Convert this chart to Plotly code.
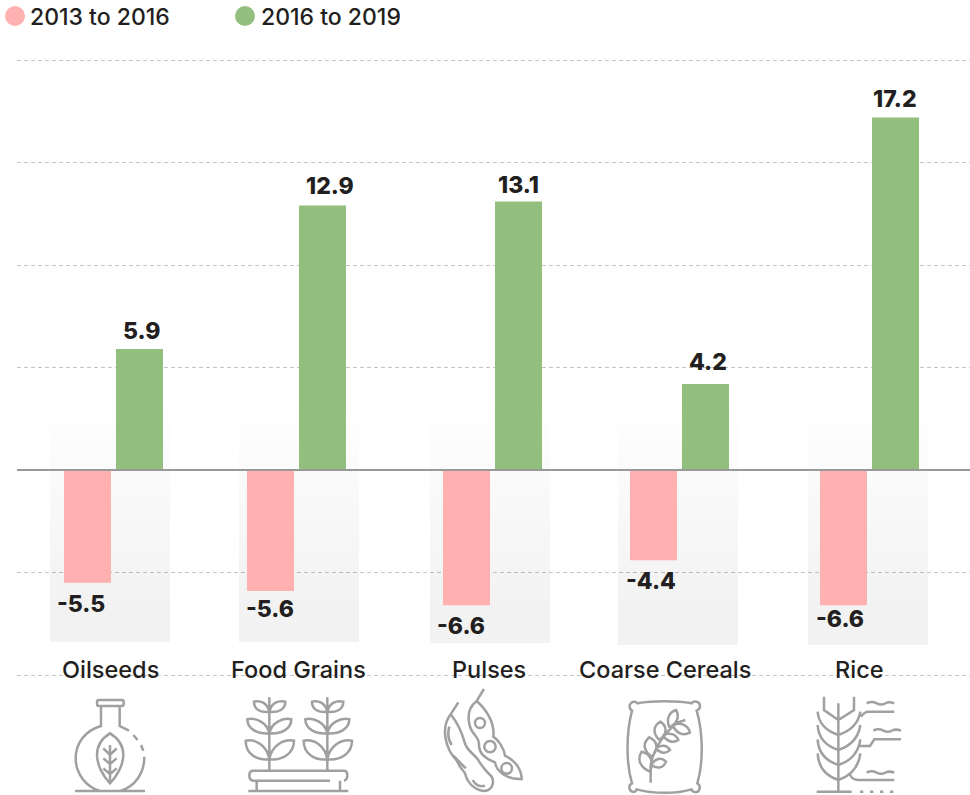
import re
import plotly.graph_objects as go

# ---------- data ----------
categories = ["Oilseeds", "Food Grains", "Pulses", "Coarse Cereals", "Rice"]
series_names = ["2013 to 2016", "2016 to 2019"]
# bar lengths as drawn in the picture (the Food Grains bar is drawn longer than its printed label)
values_2013_2016 = [-5.5, -5.9, -6.6, -4.4, -6.6]
values_2016_2019 = [5.9, 12.9, 13.1, 4.2, 17.2]
labels_2013_2016 = ["-5.5", "-5.6", "-6.6", "-4.4", "-6.6"]
labels_2016_2019 = ["5.9", "12.9", "13.1", "4.2", "17.2"]
grid_values = [-10, -5, 0, 5, 10, 15, 20]

# ---------- layout constants (pixels) ----------
W, H = 970, 795
LEFT = 17
ZERO_PX = 470
PX_PER_UNIT = 20.5
group_x = [113.5, 296.5, 492.5, 679.5, 869.5]
label_x = [110.5, 298.5, 489, 665, 859]
panel_left = [50, 239, 430, 618, 808]
panel_bottom = [642, 642, 643, 645, 645]
PANEL_W, PANEL_TOP = 120, 400
BAR_W = 47
PINK, GREEN = "#ffb1b1", "#92bf7d"
INK = "#231f20"
ICON = "#a0a0a0"
FONT = "Inter"
neg_shift = [(-6.5, -21), (-0.5, -18), (-5.5, -21), (-2.5, -21), (-3.5, -14)]
pos_shift = [(1.5, 18), (7.5, 20), (-0.5, 16), (2.5, 22), (-0.5, 18)]


def pxv(x):
    return (x - LEFT) / (W - LEFT)


def pyv(y):
    return 1 - y / H


def data_y(y):
    return (ZERO_PX - y) / PX_PER_UNIT


def to_paper(path, ox, oy):
    """Path in 3x-crop coordinates -> paper coordinates."""
    res, is_x = [], True
    for tok in re.findall(r"[MLCQZ]|-?\d+\.?\d*", path):
        if tok in "MLCQZ":
            res.append(tok)
            is_x = True
        else:
            v = float(tok) / 3
            res.append(f"{pxv(ox + v):.5f}" if is_x else f"{pyv(oy + v):.5f}")
            is_x = not is_x
    s = ""
    for tok in res:
        s += (tok if tok in "MLCQZ" else tok + " ")
    return s


def circ(cx, cy, r):
    k = 0.5523 * r
    return (f"M{cx-r} {cy} C{cx-r} {cy-k} {cx-k} {cy-r} {cx} {cy-r} "
            f"C{cx+k} {cy-r} {cx+r} {cy-k} {cx+r} {cy} "
            f"C{cx+r} {cy+k} {cx+k} {cy+r} {cx} {cy+r} "
            f"C{cx-k} {cy+r} {cx-r} {cy+k} {cx-r} {cy} Z ")


def leaf(b, t, w):
    bx, by = b
    tx, ty = t
    dx, dy = tx - bx, ty - by
    nx, ny = -dy, dx
    a1 = (bx + 0.35 * dx + w * nx, by + 0.35 * dy + w * ny)
    a2 = (bx + 0.75 * dx + w * nx, by + 0.75 * dy + w * ny)
    c1 = (bx + 0.35 * dx - w * nx, by + 0.35 * dy - w * ny)
    c2 = (bx + 0.75 * dx - w * nx, by + 0.75 * dy - w * ny)
    return (f"M{bx} {by} C{a1[0]} {a1[1]} {a2[0]} {a2[1]} {tx} {ty} "
            f"C{c2[0]} {c2[1]} {c1[0]} {c1[1]} {bx} {by} ")


flask = (
    "M102 30 L170 30 Q176 30 176 36 L176 42 Q176 48 170 48 L102 48 Q96 48 96 42 L96 36 Q96 30 102 30 Z "
    "M108 48 L108 108 C60 122 32 160 32 205 C32 250 62 290 105 303 "
    "M164 48 L164 108 L192 122 M205 135 L218 150 M228 165 L235 182 "
    "M238 200 C238 250 210 290 165 303 "
    "M135 130 C110 145 96 165 96 195 C96 225 115 260 135 280 C155 260 175 225 175 195 C175 165 160 145 135 130 Z "
    "M135 165 L135 280 M115 175 L135 195 L155 175 M115 205 L135 222 L155 205 M115 235 L135 252 L155 235 "
    "M30 303 L240 303"
)

plant = ""
for dx in (0, 174):
    c = 88 + dx
    plant += f"M{c} 22 L{c} 240 "
    plant += (f"M{c} 66 C{c-28} 68 {c-46} 58 {c-46} 35 C{c-28} 30 {c-6} 38 {c} 66 "
              f"M{c} 66 C{c+28} 68 {c+48} 58 {c+48} 35 C{c+28} 30 {c+6} 38 {c} 66 "
              f"M{c} 130 C{c-35} 132 {c-66} 118 {c-66} 88 C{c-40} 82 {c-6} 98 {c} 130 "
              f"M{c} 130 C{c+35} 132 {c+66} 118 {c+66} 88 C{c+40} 82 {c+6} 98 {c} 130 "
              f"M{c} 208 C{c-40} 212 {c-71} 190 {c-71} 152 C{c-40} 146 {c-6} 168 {c} 208 "
              f"M{c} 208 C{c+40} 212 {c+74} 190 {c+74} 152 C{c+42} 146 {c+6} 168 {c} 208 ")
plant += ("M312 242 L40 242 Q28 242 28 256 Q28 272 40 272 L270 272 M312 242 Q322 242 322 256 Q322 270 312 272 "
          "M50 272 L50 303 M300 272 L300 303 M25 303 L325 303")

pulses = (
    "M85 52 L62 88 C42 115 38 150 58 195 C62 210 75 215 85 235 C90 250 100 255 105 265 "
    "C110 285 125 312 160 318 C185 318 195 295 185 275 C170 260 150 235 145 225 C130 205 110 195 105 175 "
    "C95 140 80 110 62 88 "
    "M58 125 C52 145 55 165 65 180 M70 212 C85 225 95 240 108 250 M128 285 C135 300 150 307 165 302 "
    "M162 12 L140 48 C118 65 110 90 120 125 C125 145 145 155 147 175 C145 205 165 220 195 232 "
    "C200 262 235 285 275 282 C275 258 260 228 225 212 C222 190 205 165 190 155 C195 110 165 70 140 48 "
) + circ(150, 114, 15) + circ(180, 185, 17) + circ(230, 250, 16)

bag = (
    "M52 40 C100 32 170 32 215 40 C222 30 240 35 240 48 C240 55 235 60 230 62 C250 130 250 220 232 280 "
    "C242 285 242 305 228 307 C222 307 216 303 214 298 C170 312 100 312 50 298 C46 310 28 308 28 292 "
    "C28 285 32 282 36 280 C18 220 18 130 36 62 C28 58 26 45 34 38 C40 34 48 34 52 40 Z "
    "M92 278 L92 225 C100 180 130 130 175 95 "
    + leaf((148, 112), (168, 60), 0.32) + leaf((118, 150), (122, 95), 0.4)
    + leaf((96, 200), (88, 142), 0.4) + leaf((90, 245), (65, 185), 0.35)
    + leaf((158, 105), (210, 128), 0.33) + leaf((128, 135), (175, 150), 0.3)
    + leaf((108, 175), (150, 180), 0.33) + leaf((94, 225), (138, 215), 0.38)
    + "M172 98 L196 90 "
)

rice = "M100 40 L100 305 M57 20 L57 60 L100 90 L147 60 L147 20 "
for tip, base in ((65, 135), (105, 180), (148, 225), (190, 270)):
    rice += f"M100 {base} C70 {base-10} 40 {base-32} 38 {tip} M100 {base} C130 {base-10} 160 {base-32} 166 {tip} "
rice += ("M168 80 C175 70 180 65 190 65 L268 65 "
         "M185 40 Q200 32 215 40 Q230 48 245 38 Q255 35 268 40 "
         "M165 168 L195 168 L208 148 L288 148 "
         "M205 122 Q220 114 235 122 Q250 130 265 120 Q275 117 288 122 "
         "M135 255 C142 268 150 270 160 270 L268 270 "
         "M185 248 Q200 240 215 248 Q230 256 245 246 Q255 243 268 248 "
         "M35 305 L140 305 M165 305 L175 305 M195 305 L205 305 M225 305 L235 305 M255 305 L265 305")

icons = [(flask, 65, 690), (plant, 240, 690), (pulses, 430, 685), (bag, 620, 690), (rice, 805, 690)]

# ---------- figure ----------
fig = go.Figure()

for left, bottom in zip(panel_left, panel_bottom):
    fig.add_trace(go.Scatter(
        x=[left, left + PANEL_W, left + PANEL_W, left, left],
        y=[data_y(PANEL_TOP), data_y(PANEL_TOP), data_y(bottom), data_y(bottom), data_y(PANEL_TOP)],
        mode="none", fill="toself", showlegend=False, hoverinfo="skip",
        fillgradient=dict(type="vertical",
                          colorscale=[[0, "rgba(0,0,0,0.05)"], [1, "rgba(0,0,0,0)"]],
                          start=data_y(bottom - 40), stop=data_y(PANEL_TOP)),
    ))

fig.add_trace(go.Bar(x=group_x, y=values_2013_2016, name=series_names[0], width=BAR_W, offset=-49.5,
                     marker=dict(color=PINK, line_width=0), yaxis="y2", showlegend=False))
fig.add_trace(go.Bar(x=group_x, y=values_2016_2019, name=series_names[1], width=BAR_W, offset=2.5,
                     marker=dict(color=GREEN, line_width=0), yaxis="y2", showlegend=False))

yr = [data_y(H), data_y(0)]
shapes = [dict(type="line", xref="paper", x0=0, x1=1, yref="y", y0=0, y1=0,
               line=dict(color="#999999", width=2), layer="above")]
for path, ox, oy in icons:
    shapes.append(dict(type="path", xref="paper", yref="paper", path=to_paper(path, ox, oy),
                       line=dict(color=ICON, width=2.5), layer="above"))
for cx, col in ((15, PINK), (245, GREEN)):
    shapes.append(dict(type="circle", xref="paper", yref="paper",
                       x0=pxv(cx - 10), x1=pxv(cx + 10), y0=pyv(26), y1=pyv(6),
                       fillcolor=col, line_width=0))

ann = []
for name, tx in zip(series_names, (28, 259)):
    ann.append(dict(text=name, xref="paper", yref="paper", x=pxv(tx), y=pyv(17), xanchor="left",
                    yanchor="middle", showarrow=False, font=dict(family=FONT, size=23, color=INK, weight=500)))
for name, lx in zip(categories, label_x):
    ann.append(dict(text=name, xref="paper", yref="paper", x=pxv(lx), y=pyv(669), xanchor="center",
                    yanchor="middle", showarrow=False, font=dict(family=FONT, size=23.5, color=INK, weight=500)))
for vals, labels, shifts, off in ((values_2013_2016, labels_2013_2016, neg_shift, -26),
                                  (values_2016_2019, labels_2016_2019, pos_shift, 26)):
    for gx, v, lab, (sx, sy) in zip(group_x, vals, labels, shifts):
        ann.append(dict(text=lab, x=gx + off, y=v, xref="x", yref="y", xshift=sx, yshift=sy,
                        xanchor="center", yanchor="middle", showarrow=False,
                        font=dict(family=FONT, size=23, color=INK, weight=800)))

fig.update_layout(
    width=W, height=H, margin=dict(l=LEFT, r=0, t=0, b=0),
    paper_bgcolor="white", plot_bgcolor="white", barmode="overlay", showlegend=False,
    xaxis=dict(range=[LEFT, W], visible=False, fixedrange=True),
    yaxis=dict(range=yr, tickvals=grid_values, showticklabels=False, ticks="", showline=False, zeroline=False,
               showgrid=True, gridcolor="#c4c4c4", griddash="4px,3px", gridwidth=1, fixedrange=True),
    yaxis2=dict(range=yr, overlaying="y", visible=False, showgrid=False, zeroline=False, fixedrange=True),
    shapes=shapes, annotations=ann,
)
fig.write_html("out.html", config=dict(displayModeBar=False), post_script="document.body.style.margin='0';")
